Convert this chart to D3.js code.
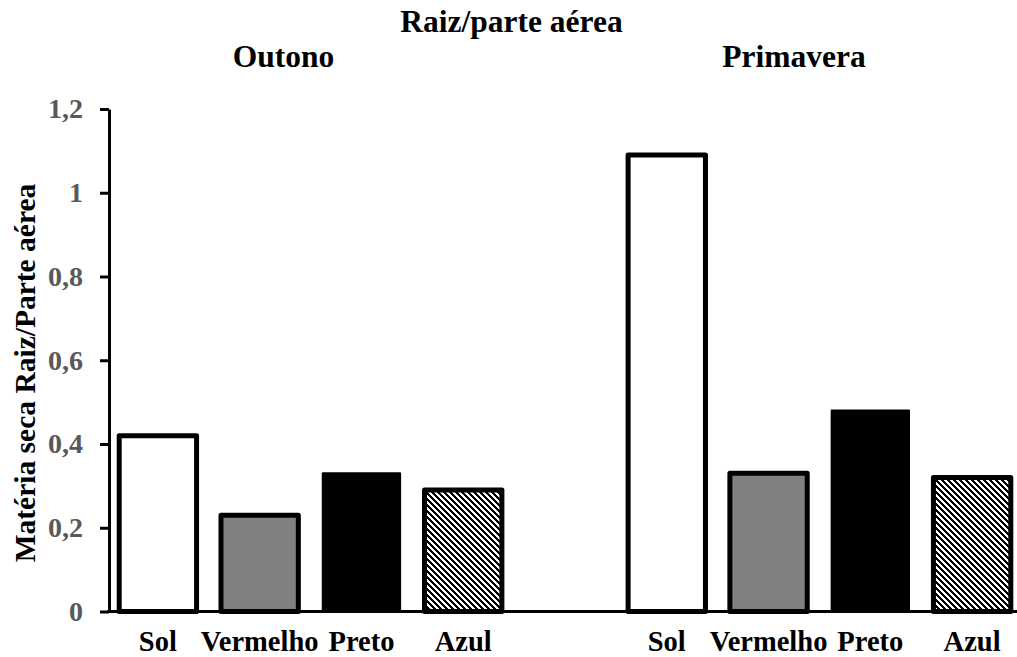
<!DOCTYPE html>
<html>
<head>
<meta charset="utf-8">
<script src="https://cdn.jsdelivr.net/npm/d3@7"></script>
<style>
  html, body { margin: 0; padding: 0; background: #fff; }
  svg { display: block; }
  text { font-family: "Liberation Serif", "Times New Roman", serif; font-weight: bold; }
</style>
</head>
<body>
<svg id="chart" width="1017" height="657"></svg>
<script>
const chartTitle = "Raiz/parte aérea";
const seasons = ["Outono", "Primavera"];
const treatments = ["Sol", "Vermelho", "Preto", "Azul"];
const outonoValues = [0.42, 0.23, 0.33, 0.29];
const primaveraValues = [1.09, 0.33, 0.48, 0.32];
const yTickValues = [0, 0.2, 0.4, 0.6, 0.8, 1, 1.2];
const yTickLabels = ["0", "0,2", "0,4", "0,6", "0,8", "1", "1,2"];
const yAxisTitle = "Matéria seca Raiz/Parte aérea";

const FONT = "'Liberation Serif', 'Times New Roman', serif";
const svg = d3.select("#chart");

// slots: 4 bars, empty gap, 4 bars
const slots = [];
treatments.forEach((t, i) => slots.push({ key: "O-" + t, season: 0, treat: t, idx: i, value: outonoValues[i] }));
slots.push({ key: "gap", season: -1 });
treatments.forEach((t, i) => slots.push({ key: "P-" + t, season: 1, treat: t, idx: i, value: primaveraValues[i] }));
const bars = slots.filter(d => d.season >= 0);

const x = d3.scaleBand().domain(slots.map(d => d.key)).range([107, 1023]).paddingInner(0.24).paddingOuter(0.12);
const y = d3.scaleLinear().domain([0, 1.2]).range([611.5, 109]);

// hatch pattern
const defs = svg.append("defs");
const pat = defs.append("pattern").attr("id", "hatch").attr("patternUnits", "userSpaceOnUse")
  .attr("width", 6).attr("height", 6);
pat.append("rect").attr("width", 6).attr("height", 6).attr("fill", "#fff");
pat.append("path").attr("d", "M-1,-1 L7,7 M-4,2 L4,10 M2,-4 L10,4")
  .attr("stroke", "#000").attr("stroke-width", 2.3).attr("shape-rendering", "crispEdges");

const fills = { "Sol": "#ffffff", "Vermelho": "#808080", "Preto": "#000000", "Azul": "url(#hatch)" };

// bars
svg.append("g").selectAll("rect").data(bars).join("rect")
  .attr("x", d => x(d.key))
  .attr("width", x.bandwidth())
  .attr("y", d => y(d.value))
  .attr("height", d => y(0) - y(d.value))
  .attr("fill", d => fills[d.treat])
  .attr("stroke", "#000")
  .attr("stroke-width", d => d.treat === "Preto" ? 2 : 5)
  .attr("stroke-linejoin", "round");

// y axis
const yAxis = d3.axisLeft(y).tickValues(yTickValues)
  .tickFormat((d, i) => yTickLabels[i]).tickSize(9).tickSizeOuter(0).tickPadding(17);
const gy = svg.append("g").attr("transform", "translate(109,0)").call(yAxis)
  .attr("font-family", FONT).attr("font-size", 28);
gy.select(".domain").attr("stroke", "#000").attr("stroke-width", 3);
gy.selectAll(".tick line").attr("stroke", "#000").attr("stroke-width", 3);
gy.selectAll(".tick text").attr("fill", "#595959")
  .style("font-family", FONT).style("font-weight", "bold").style("font-size", "28px");

// baseline
svg.append("line").attr("x1", 107.5).attr("x2", 1017).attr("y1", y(0)).attr("y2", y(0))
  .attr("stroke", "#000").attr("stroke-width", 3);

// category labels
svg.append("g").selectAll("text").data(bars).join("text")
  .attr("x", d => x(d.key) + x.bandwidth() / 2)
  .attr("y", 651)
  .attr("text-anchor", "middle")
  .style("font-family", FONT)
  .style("font-size", "28.5px")
  .attr("fill", "#000")
  .text(d => d.treat);

// titles
svg.append("text").attr("x", 511.5).attr("y", 32).attr("text-anchor", "middle")
  .style("font-family", FONT).style("font-size", "31.5px").text(chartTitle);
const seasonX = [283.5, 794];
svg.append("g").selectAll("text").data(seasons).join("text")
  .attr("x", (d, i) => seasonX[i]).attr("y", 66.5).attr("text-anchor", "middle")
  .style("font-family", FONT).style("font-size", "31.5px").text(d => d);

// y axis title
svg.append("text").attr("transform", "translate(35,373) rotate(-90)")
  .attr("text-anchor", "middle").style("font-family", FONT).style("font-size", "29.5px").text(yAxisTitle);
</script>
</body>
</html>
